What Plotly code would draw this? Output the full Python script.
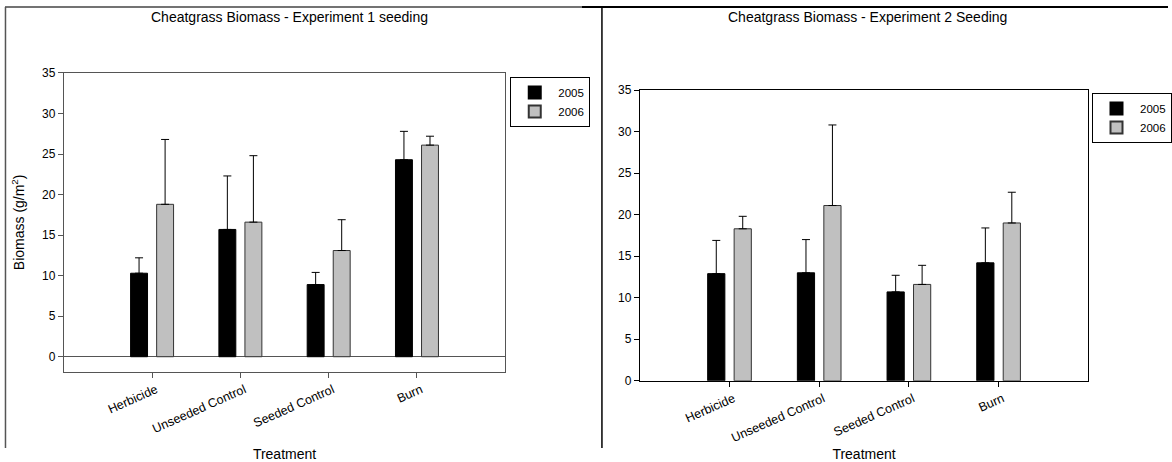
import plotly.graph_objects as go

W, H = 1172, 462

treatments = ["Herbicide", "Unseeded Control", "Seeded Control", "Burn"]
years = ["2005", "2006"]

# Experiment 1 seeding
exp1_2005 = [10.3, 15.7, 8.9, 24.3]
exp1_2005_err = [1.9, 6.6, 1.5, 3.5]
exp1_2006 = [18.8, 16.6, 13.1, 26.1]
exp1_2006_err = [8.0, 8.2, 3.8, 1.1]

# Experiment 2 seeding
exp2_2005 = [12.9, 13.0, 10.7, 14.2]
exp2_2005_err = [4.0, 4.0, 2.0, 4.2]
exp2_2006 = [18.3, 21.1, 11.6, 19.0]
exp2_2006_err = [1.5, 9.7, 2.3, 3.7]

y_ticks = [0, 5, 10, 15, 20, 25, 30, 35]

FONT = "Arial, 'Liberation Sans', sans-serif"
colors = {"2005": "#000000", "2006": "#c0c0c0"}
outline = {"2005": "#000000", "2006": "#333333"}


def px(x):
    return x / W


def py(y):
    # vertical position in pixels from the top, corrected for the rendered page
    y = (y - 6.4) / 0.949
    return min(1.0, max(0.0, 1 - y / H))


fig = go.Figure()

panels = [
    ("x", "y", "legend", [exp1_2005, exp1_2006], [exp1_2005_err, exp1_2006_err]),
    ("x2", "y2", "legend2", [exp2_2005, exp2_2006], [exp2_2005_err, exp2_2006_err]),
]
for xa, ya, lg, vals, errs in panels:
    for yr, v, e in zip(years, vals, errs):
        fig.add_trace(go.Bar(
            x=treatments, y=v, name=yr, xaxis=xa, yaxis=ya, legend=lg,
            marker=dict(color=colors[yr], line=dict(color=outline[yr], width=1)),
            error_y=dict(type="data", array=e, arrayminus=[0] * len(e),
                         symmetric=False, color="#000000", thickness=1, width=4),
        ))

title_font = dict(family=FONT, size=14, color="#000")


def xaxis_cfg(domain, anchor, lc, standoff):
    return dict(domain=domain, anchor=anchor, range=[-1, 4], tickangle=-24,
                showgrid=False, showline=True, mirror=True, ticks="outside", ticklen=5,
                linecolor=lc, tickcolor=lc, ticklabelshift=4,
                tickfont=dict(family=FONT, size=12.5, color="#000"),
                title=dict(text="Treatment", font=title_font, standoff=standoff))


def yaxis_cfg(domain, anchor, lc, rng, zl, title):
    d = dict(domain=domain, anchor=anchor, range=rng, tickvals=y_ticks,
             showgrid=False, showline=True, mirror=True, ticks="outside", ticklen=5,
             linecolor=lc, tickcolor=lc,
             tickfont=dict(family=FONT, size=12, color="#000"),
             zeroline=zl, zerolinecolor="#555", zerolinewidth=1)
    if title:
        d["title"] = dict(text=title, font=title_font, standoff=14)
    return d


legend_common = dict(xanchor="left", yanchor="top", bordercolor="#000", borderwidth=1,
                     bgcolor="white", font=dict(family=FONT, size=11.5, color="#000"),
                     tracegroupgap=0, itemsizing="constant", itemwidth=37)

fig.update_layout(
    width=W, height=H,
    margin=dict(l=0, r=0, t=0, b=0),
    paper_bgcolor="white", plot_bgcolor="white",
    barmode="group", bargap=0.41, bargroupgap=0.35,
    font=dict(family=FONT, color="#000"),
    xaxis=xaxis_cfg([px(64), px(507)], "y", "#555", 14),
    yaxis=yaxis_cfg([py(369), py(72)], "x", "#555", [-1.85, 35], True, "Biomass (g/m<sup>2</sup>)"),
    xaxis2=xaxis_cfg([px(642), px(1092)], "y2", "#000", 7),
    yaxis2=yaxis_cfg([py(378), py(89)], "x2", "#000", [0, 35], False, None),
    legend=dict(x=px(512), y=py(76), **legend_common),
    legend2=dict(x=px(1096), y=py(92), **legend_common),
    annotations=[
        dict(text="Cheatgrass Biomass - Experiment 1 seeding", x=px(290), y=py(16),
             xref="paper", yref="paper", xanchor="center", yanchor="middle",
             showarrow=False, font=title_font),
        dict(text="Cheatgrass Biomass - Experiment 2 Seeding", x=px(870), y=py(16),
             xref="paper", yref="paper", xanchor="center", yanchor="middle",
             showarrow=False, font=title_font),
    ],
    shapes=[
        dict(type="line", xref="paper", yref="paper", x0=px(5), x1=px(590), y0=py(6.5), y1=py(6.5),
             line=dict(color="#444", width=1.5)),
        dict(type="line", xref="paper", yref="paper", x0=px(584), x1=1, y0=py(6.5), y1=py(6.5),
             line=dict(color="#000", width=2)),
        dict(type="line", xref="paper", yref="paper", x0=px(5.5), x1=px(5.5), y0=py(6.5), y1=0,
             line=dict(color="#555", width=1.5)),
        dict(type="line", xref="paper", yref="paper", x0=px(604), x1=px(604), y0=py(6.5), y1=0,
             line=dict(color="#000", width=1.5)),
    ],
)

fig.write_html("out.html", config={"displayModeBar": False},
               post_script="document.body.style.margin='0px';document.body.style.overflow='hidden';")
